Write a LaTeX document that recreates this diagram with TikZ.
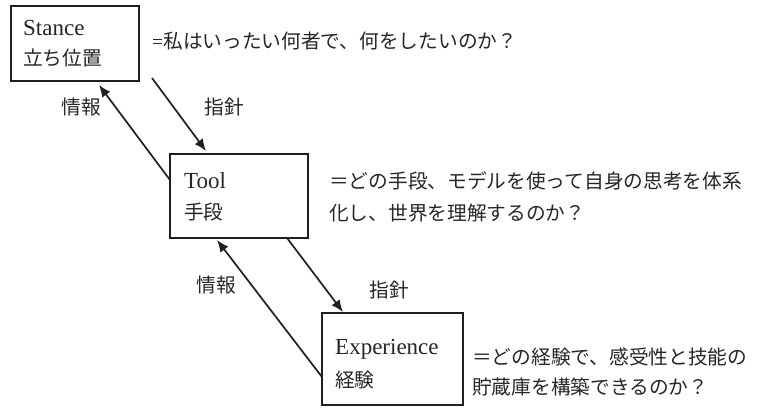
\documentclass[tikz,border=0pt]{standalone}
\usepackage{fontspec}
\setmainfont{Noto Sans CJK JP}
\newfontfamily\lat{Liberation Serif}
\usetikzlibrary{arrows.meta}
\begin{document}
\begin{tikzpicture}[x=1pt,y=-1pt,
  box/.style={draw=black!88,line width=1.9pt,fill=white,inner sep=0pt},
  txt/.style={inner sep=0pt,anchor=west,text=black!85,font=\fontsize{19.7}{24}\selectfont},
  latn/.style={inner sep=0pt,anchor=west,text=black!85,font=\lat\fontsize{23}{26}\selectfont},
  lbl/.style={inner sep=0pt,text=black!85,font=\fontsize{19.7}{24}\selectfont},
  arr/.style={draw=black!88,line width=1.7pt,-{Latex[length=12pt,width=10pt]}}]
\useasboundingbox (0,0) rectangle (763,407);
% boxes
\node[box,minimum width=128pt,minimum height=75pt] (stance) at (75,43.5) {};
\node[box,minimum width=138pt,minimum height=84pt] (tool) at (239,196) {};
\node[box,minimum width=141pt,minimum height=92pt] (exp) at (392.5,359) {};
% box texts
\node[latn] (stEn) at (23,28) {Stance};
\node[txt] (stJa) at (23,58) {立ち位置};
\node[latn] (toEn) at (184,181) {Tool};
\node[txt] (toJa) at (184,212) {手段};
\node[latn] (exEn) at (335,349) {Experience};
\node[txt] (exJa) at (335,380) {経験};
% descriptions
\node[txt] (d1) at (152,41) {{\lat =}私はいったい何者で、何をしたいのか？};
\node[txt] (d2a) at (329,181) {＝どの手段、モデルを使って自身の思考を体系};
\node[txt] (d2b) at (329,213) {化し、世界を理解するのか？};
\node[txt] (d3a) at (472,357) {＝どの経験で、感受性と技能の};
\node[txt] (d3b) at (472,387) {貯蔵庫を構築できるのか？};
% connector end points
\coordinate (a1s) at (152,78);
\coordinate (a1e) at (206,151);
\coordinate (a2s) at (170,180);
\coordinate (a2e) at (99,85);
\coordinate (a3s) at (287,238);
\coordinate (a3e) at (343,312);
\coordinate (a4s) at (322,377);
\coordinate (a4e) at (217,240);
% connectors
\draw[arr] (a1s) -- (a1e);
\draw[arr] (a2s) -- (a2e);
\draw[arr] (a3s) -- (a3e);
\draw[arr] (a4s) -- (a4e);
% labels
\node[lbl] (l1) at (81,107) {情報};
\node[lbl] (l2) at (224,107) {指針};
\node[lbl] (l3) at (216,285) {情報};
\node[lbl] (l4) at (389,290) {指針};
\end{tikzpicture}
\end{document}
